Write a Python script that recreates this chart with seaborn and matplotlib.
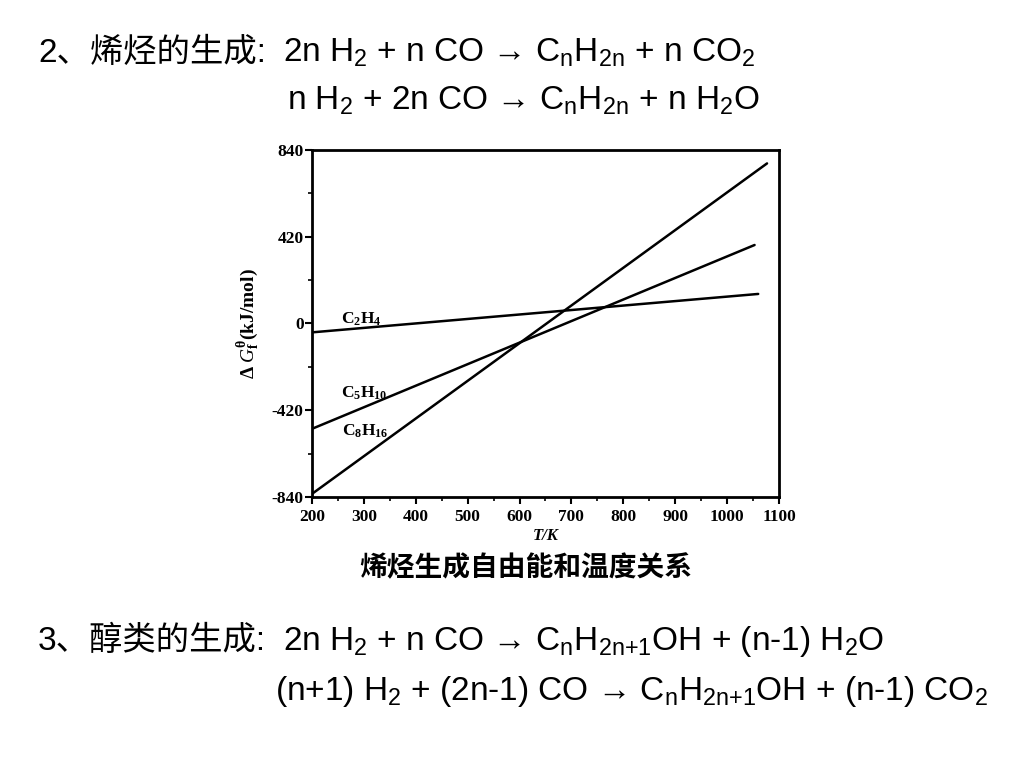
import seaborn as sns
import pandas as pd
import numpy as np
import matplotlib.pyplot as plt
from matplotlib.ticker import MultipleLocator

# values (end points of the three straight lines)
species = ['C$_2$H$_4$', 'C$_5$H$_{10}$', 'C$_8$H$_{16}$']
t_start = [200, 200, 200]
t_end = [1060, 1053, 1077]
g_start = [-43, -510, -825]
g_end = [143, 380, 775]

label_t = [255, 255, 258]
label_g = [20, -338, -521]

x_ticks = [200, 300, 400, 500, 600, 700, 800, 900, 1000, 1100]
y_ticks = [-840, -420, 0, 420, 840]

rows = []
for s, t0, t1, g0, g1 in zip(species, t_start, t_end, g_start, g_end):
    rows.append({'T': t0, 'G': g0, 'species': s})
    rows.append({'T': t1, 'G': g1, 'species': s})
df = pd.DataFrame(rows)

sns.set_theme(style='ticks')
plt.rcParams['font.family'] = ['Liberation Serif', 'Noto Sans CJK SC']
plt.rcParams['mathtext.fontset'] = 'custom'
plt.rcParams['mathtext.default'] = 'regular'
plt.rcParams['mathtext.rm'] = 'Liberation Serif'
plt.rcParams['mathtext.it'] = 'Liberation Serif:italic'
plt.rcParams['axes.unicode_minus'] = False
for k in ['text.color', 'axes.labelcolor', 'xtick.color', 'ytick.color', 'axes.edgecolor']:
    plt.rcParams[k] = 'black'

fig = plt.figure(figsize=(10.24, 7.68), dpi=100)
ax = fig.add_axes([0.3047, 0.3529, 0.456, 0.4518])

sns.lineplot(data=df, x='T', y='G', hue='species', palette=['black'] * 3,
             linewidth=1.8, legend=False, ax=ax)

ax.set_xlim(200, 1100)
ax.set_ylim(-840, 840)
ax.set_xticks(x_ticks)
ax.set_yticks(y_ticks)
ax.xaxis.set_minor_locator(MultipleLocator(50))
ax.yaxis.set_minor_locator(MultipleLocator(210))
ax.tick_params(which='major', direction='out', length=5, width=1.5,
               labelsize=12.5, top=False, right=False)
ax.tick_params(axis='y', which='major', pad=1)
ax.tick_params(which='minor', direction='out', length=3, width=1.2,
               top=False, right=False)
for lab in ax.get_xticklabels() + ax.get_yticklabels():
    lab.set_fontweight('bold')
for sp in ax.spines.values():
    sp.set_linewidth(2)
    sp.set_visible(True)

ax.set_xlabel('T/K', fontsize=12, style='italic', fontweight='bold', labelpad=2)
ax.set_ylabel(r'$\Delta\;\mathit{G}_f^{\theta}$(kJ/mol)', fontsize=14,
              fontweight='bold', labelpad=8)

for s, t, g in zip(species, label_t, label_g):
    ax.text(t, g, s, fontsize=12.5, fontweight='bold', ha='left', va='center')

fig.text(526 / 1024, 1 - 568 / 768, '烯烃生成自由能和温度关系', ha='center', va='center',
         fontsize=20, fontweight='bold', family=['Noto Sans CJK SC'])

# heading and footer equations
sans = ['Liberation Sans', 'Noto Sans CJK SC']
eq_size = 24
fig.text(38 / 1024, 1 - 62 / 768, '2、烯烃的生成:', fontsize=eq_size, va='baseline',
         family=sans)
fig.text(283 / 1024, 1 - 62 / 768,
         '2n H$_2$ + n CO → C$_n$H$_{2n}$ + n CO$_2$',
         fontsize=eq_size, va='baseline', family=sans)
fig.text(287 / 1024, 1 - 110 / 768,
         'n H$_2$ + 2n CO → C$_n$H$_{2n}$ + n H$_2$O',
         fontsize=eq_size, va='baseline', family=sans)
fig.text(38 / 1024, 1 - 650 / 768, '3、醇类的生成:', fontsize=eq_size, va='baseline',
         family=sans)
fig.text(283 / 1024, 1 - 650 / 768,
         '2n H$_2$ + n CO → C$_n$H$_{2n{+}1}$OH + (n-1) H$_2$O',
         fontsize=eq_size, va='baseline', family=sans)
fig.text(275 / 1024, 1 - 700 / 768,
         '(n+1) H$_2$ + (2n-1) CO → C$_n$H$_{2n{+}1}$OH + (n-1) CO$_2$',
         fontsize=eq_size, va='baseline', family=sans)

fig.savefig('out.png', dpi=100, facecolor='white')
